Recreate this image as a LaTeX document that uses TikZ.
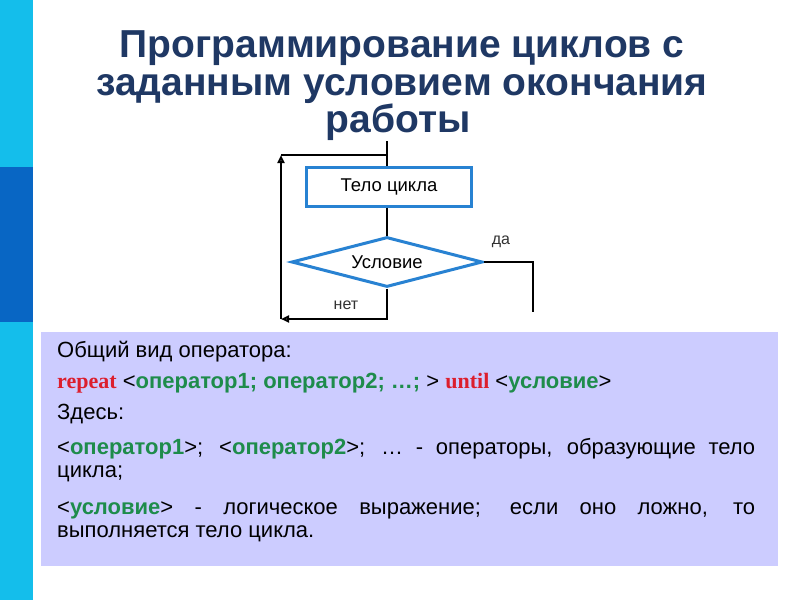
\documentclass[tikz,border=0pt]{standalone}
\usepackage{fontspec}
\setmainfont{Liberation Sans}
\newfontfamily\kwfont{Liberation Serif}
\usetikzlibrary{shapes.geometric,arrows.meta,positioning}

\definecolor{bandlight}{RGB}{20,190,235}
\definecolor{banddark}{RGB}{8,102,196}
\definecolor{panel}{RGB}{204,204,255}
\definecolor{titleblue}{RGB}{31,56,100}
\definecolor{shapeblue}{RGB}{40,130,210}
\definecolor{kwred}{RGB}{220,30,45}
\definecolor{opgreen}{RGB}{30,140,75}
\definecolor{labelgray}{RGB}{50,50,50}

\newcommand{\kw}[1]{{\kwfont\bfseries\color{kwred}#1}}
\newcommand{\opn}[1]{{\bfseries\color{opgreen}#1}}

\tikzset{
  titleline/.style={anchor=base, inner sep=0pt, text=titleblue, font=\fontsize{39}{44}\selectfont\bfseries},
  bodyline/.style={anchor=base west, inner sep=0pt, font=\fontsize{22}{26}\selectfont},
  blockbox/.style={draw=shapeblue, line width=3pt, fill=white, minimum width=165pt, minimum height=39pt, inner sep=0pt, font=\fontsize{18.5}{22}\selectfont},
  condbox/.style={diamond, aspect=3.8, draw=shapeblue, line width=3pt, fill=white, minimum width=191pt, minimum height=50pt, inner sep=0pt, font=\fontsize{18.5}{22}\selectfont},
  flow/.style={line width=2pt, draw=black},
  opentip/.style={-{Triangle[open, length=8pt, width=7pt]}},
  branchlabel/.style={inner sep=0pt, text=labelgray, font=\fontsize{16}{19}\selectfont},
}

\begin{document}
\begin{tikzpicture}[x=1pt, y=-1pt, line join=miter]

  %% ════ background ════
  \fill[white] (0,0) rectangle (800,600);
  \fill[bandlight] (0,0) rectangle (33,600);
  \fill[banddark] (0,167) rectangle (33,322);
  \fill[panel] (41,332) rectangle (778,566);

  %% ════ title ════
  \node[titleline] (titleA) at (402,57) {Программирование циклов с};
  \node[titleline] (titleB) at (402,95) {заданным условием окончания};
  \node[titleline] (titleC) at (398,132) {работы};

  %% ════ flowchart ════
  \coordinate (entry) at (387,141);
  \node[blockbox] (body) at (389,186.5) {Тело цикла};
  \node[condbox] (cond) at (387,262) {Условие};
  \coordinate (loopNE) at (387,155);
  \coordinate (loopNW) at (281,155);
  \coordinate (loopSW) at (281,319);
  \coordinate (yesEnd) at (533,312);

  \draw[flow] (entry) -- (entry |- body.north);
  \draw[flow] (body.south -| cond.north) -- (cond.north);
  \draw[flow] (cond.east) -| (yesEnd);
  \draw[flow,opentip] (cond.south) |- (loopSW);
  \draw[flow,opentip] (loopSW) -- (loopNW);
  \draw[flow] (loopNW) -- (loopNE);

  \node[branchlabel] (yes) at (501,242) {да};
  \node[branchlabel] (no) at (346,305) {нет};

  %% ════ panel text ════
  \node[bodyline] (lineA) at (57,357) {Общий вид оператора:};
  \node[bodyline] (lineB) at (57,388) {\kw{repeat} <\opn{оператор1; оператор2; …;}~> \kw{until} <\opn{условие}>};
  \node[bodyline] (lineC) at (57,419) {Здесь:};
  \node[bodyline] (lineD) at (57,454) {\makebox[698pt][s]{<\opn{оператор1}>; <\opn{оператор2}>; … - операторы, образующие тело}};
  \node[bodyline] (lineE) at (57,477) {цикла;};
  \node[bodyline] (lineF) at (57,514) {\makebox[698pt][s]{<\opn{условие}> - логическое выражение; если оно ложно, то}};
  \node[bodyline] (lineG) at (57,537) {выполняется тело цикла.};

  % fix the canvas
  \pgfresetboundingbox
  \path[use as bounding box] (0,0) rectangle (800,600);
\end{tikzpicture}
\end{document}
